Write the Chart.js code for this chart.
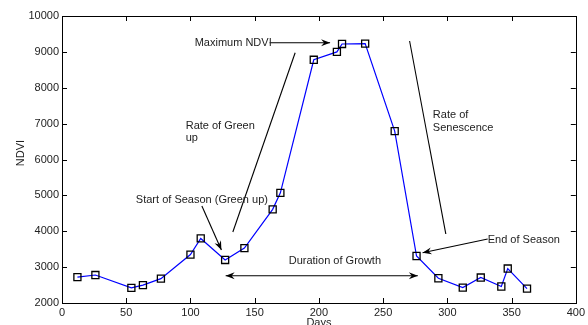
<!DOCTYPE html>
<html>
<head>
<meta charset="utf-8">
<script src="https://cdn.jsdelivr.net/npm/chart.js@4/dist/chart.umd.min.js"></script>
<style>
  html, body { margin: 0; padding: 0; background: #fff; }
  #wrap { width: 588px; height: 325px; }
</style>
</head>
<body>
<div id="wrap"><canvas id="c"></canvas></div>
<script>
// NDVI time series (day of year vs NDVI)
const DAYS = [12, 26, 54, 63, 77, 100, 108, 127, 142, 164, 170, 196, 214, 218, 236, 259, 276, 293, 312, 326, 342, 347, 362];
const NDVI = [2720, 2780, 2420, 2500, 2680, 3350, 3800, 3200, 3530, 4610, 5070, 8780, 9000, 9220, 9230, 6790, 3310, 2690, 2430, 2710, 2460, 2960, 2400];

const X_TICKS = [0, 50, 100, 150, 200, 250, 300, 350, 400];
const Y_TICKS = [2000, 3000, 4000, 5000, 6000, 7000, 8000, 9000, 10000];

// annotation segments in data units: [x1, y1, x2, y2, heads]
const ARROWS = [
  [161.6, 9256, 208.7, 9256, 'end'],    // Maximum NDVI
  [181.5, 8977, 133.0, 3979, 'none'],   // rate of green up
  [270.6, 9303, 298.8, 3923, 'none'],   // rate of senescence
  [108.9, 4704, 124.1, 3477, 'end'],    // start of season
  [127.4, 2758, 277.0, 2758, 'both'],   // duration of growth
  [331.4, 3784, 280.7, 3402, 'end'],    // end of season
];

// annotation labels: [text, x, y] (left edge, vertical middle)
const LABELS = [
  ['Maximum NDVI', 103.3, 9256],
  ['Rate of Green', 96.3, 6942],
  ['up', 96.3, 6591],
  ['Start of Season (Green up)', 57.5, 4871],
  ['Duration of Growth', 176.5, 3179],
  ['End of Season', 331.4, 3756],
  ['Rate of', 288.7, 7240],
  ['Senescence', 288.7, 6878],
];

const FAMILY = "'Liberation Sans', Arial, sans-serif";
const FONT = '11px ' + FAMILY;

function arrowHead(ctx, x1, y1, x2, y2) {
  const a = Math.atan2(y2 - y1, x2 - x1);
  const len = 9, half = 3.5, back = 6;
  ctx.save();
  ctx.translate(x2, y2);
  ctx.rotate(a);
  ctx.beginPath();
  ctx.moveTo(0, 0);
  ctx.lineTo(-len, -half);
  ctx.lineTo(-back, 0);
  ctx.lineTo(-len, half);
  ctx.closePath();
  ctx.fill();
  ctx.restore();
}

const matlabFrame = {
  id: 'matlabFrame',
  afterDatasetsDraw(chart) {
    const { ctx, chartArea: a, scales: { x, y } } = chart;
    ctx.save();
    ctx.strokeStyle = '#000';
    ctx.fillStyle = '#000';
    ctx.lineWidth = 1.1;

    // annotation lines / arrows
    ARROWS.forEach(([x1, y1, x2, y2, heads]) => {
      const p1 = [x.getPixelForValue(x1), y.getPixelForValue(y1)];
      const p2 = [x.getPixelForValue(x2), y.getPixelForValue(y2)];
      ctx.beginPath();
      ctx.moveTo(p1[0], p1[1]);
      ctx.lineTo(p2[0], p2[1]);
      ctx.stroke();
      if (heads === 'end' || heads === 'both') arrowHead(ctx, p1[0], p1[1], p2[0], p2[1]);
      if (heads === 'both') arrowHead(ctx, p2[0], p2[1], p1[0], p1[1]);
    });

    ctx.font = FONT;
    ctx.fillStyle = '#222';
    ctx.textBaseline = 'middle';
    ctx.textAlign = 'left';
    LABELS.forEach(([t, lx, ly]) => {
      ctx.fillText(t, x.getPixelForValue(lx), y.getPixelForValue(ly));
    });

    // box + inward ticks
    ctx.strokeStyle = '#000';
    ctx.lineWidth = 1;
    ctx.strokeRect(Math.round(a.left) + 0.5, Math.round(a.top) + 0.5,
      Math.round(a.right - a.left), Math.round(a.bottom - a.top));
    const tl = 5;
    ctx.beginPath();
    X_TICKS.forEach(v => {
      const px = Math.round(x.getPixelForValue(v)) + 0.5;
      ctx.moveTo(px, a.bottom); ctx.lineTo(px, a.bottom - tl);
      ctx.moveTo(px, a.top); ctx.lineTo(px, a.top + tl);
    });
    Y_TICKS.forEach(v => {
      const py = Math.round(y.getPixelForValue(v)) + 0.5;
      ctx.moveTo(a.left, py); ctx.lineTo(a.left + tl, py);
      ctx.moveTo(a.right, py); ctx.lineTo(a.right - tl, py);
    });
    ctx.stroke();

    // axis titles
    ctx.fillStyle = '#222';
    ctx.textAlign = 'center';
    ctx.fillText('Days', (a.left + a.right) / 2, 323);
    ctx.translate(20.5, 153);
    ctx.rotate(-Math.PI / 2);
    ctx.fillText('NDVI', 0, 0);
    ctx.restore();
  }
};

new Chart(document.getElementById('c'), {
  type: 'scatter',
  data: {
    datasets: [{
      data: DAYS.map((d, i) => ({ x: d, y: NDVI[i] })),
      showLine: true,
      borderColor: '#0000ff',
      borderWidth: 1.2,
      pointStyle: 'rect',
      pointRadius: 5,
      pointBorderColor: '#000',
      pointBackgroundColor: 'rgba(0,0,0,0)',
      pointBorderWidth: 1.3,
      tension: 0,
    }],
  },
  options: {
    responsive: true,
    maintainAspectRatio: false,
    animation: false,
    layout: { padding: { top: 16, right: 11, left: 0, bottom: 0 } },
    plugins: { legend: { display: false }, tooltip: { enabled: false } },
    scales: {
      x: {
        type: 'linear', min: 0, max: 400,
        afterBuildTicks: (s) => { s.ticks = X_TICKS.map(v => ({ value: v })); },
        afterFit: (s) => { s.height = 22; },
        grid: { display: false, drawTicks: false },
        border: { display: false },
        ticks: { padding: 3, color: '#222', maxRotation: 0, callback: (v) => String(v), font: { family: FAMILY, size: 11 } },
      },
      y: {
        type: 'linear', min: 2000, max: 10000,
        afterBuildTicks: (s) => { s.ticks = Y_TICKS.map(v => ({ value: v })); },
        afterFit: (s) => { s.width = 62; },
        grid: { display: false, drawTicks: false },
        border: { display: false },
        ticks: { padding: 3, color: '#222', callback: (v) => String(v), font: { family: FAMILY, size: 11 } },
      },
    },
  },
  plugins: [matlabFrame],
});
</script>
</body>
</html>
